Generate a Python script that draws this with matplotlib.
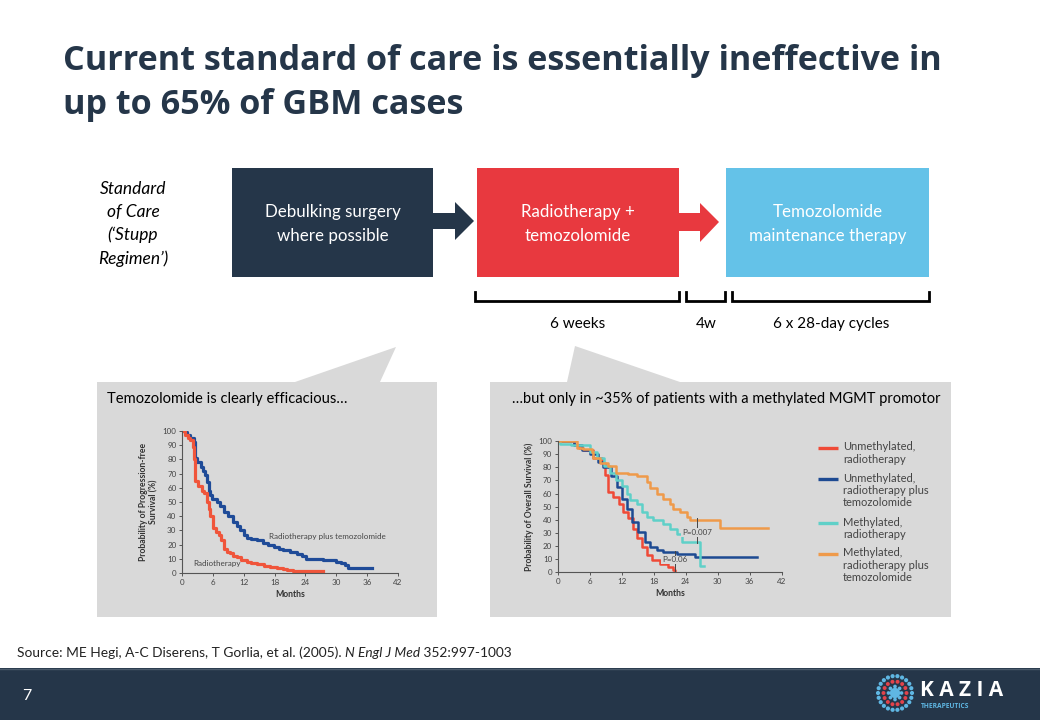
import matplotlib
matplotlib.use("Agg")
import matplotlib.pyplot as plt
from matplotlib.patches import Rectangle, Polygon
import numpy as np

# Colours
NAVY = "#253649"
RED_BOX = "#e8393f"
BLUE_BOX = "#64c2e8"
PANEL = "#d9d9d9"

# Left chart: progression-free survival (Stupp trial)
pfs_tmz_months = [0, 0.5, 1.0, 1.6, 2.3, 2.6, 3.0, 3.6, 4.1, 4.5, 4.9, 5.2, 5.5, 5.8, 6.8, 7.3, 8.1, 9.0,
                  10.0, 10.7, 11.3, 12.0, 12.6, 13.5, 14.5, 15.8, 16.8, 17.8, 18.8, 19.7, 21.0, 22.3,
                  23.3, 24.2, 27.5, 30.0, 31.0, 31.7, 32.3, 37.0]
pfs_tmz_pct = [100, 99, 97, 95, 92, 81, 78, 75, 72, 69, 64, 58, 55, 52, 50, 47, 43, 40,
               36, 33, 30, 27, 25, 24, 23, 21, 20, 18, 17, 16, 15, 13.6,
               12, 10, 9, 8, 7, 5.4, 3.5, 3.5]
pfs_rt_months = [0, 0.6, 1.2, 1.6, 2.1, 2.4, 2.6, 3.2, 3.8, 4.2, 4.8, 5.2, 5.5, 6.1, 6.6, 7.1, 7.6, 8.1,
                 8.7, 9.4, 10.0, 10.7, 11.5, 12.6, 13.5, 14.5, 16.0, 17.1, 18.5, 19.7, 20.5, 21.6, 27.5]
pfs_rt_pct = [100, 97, 95, 94, 89, 80, 65, 61, 58, 56, 50, 45, 40, 32, 29, 27, 23, 17,
              15, 14, 12, 11, 9.5, 8, 7, 6, 5, 4, 3.5, 2.6, 2, 1.4, 1.4]

# Right chart: overall survival by MGMT status
os_unmeth_rt_months = [0, 3, 4, 4.8, 6.7, 8.25, 8.9, 9.5, 10.4, 11.4, 12.3, 13.25, 14.2, 14.8, 15.75,
                       16.7, 17.6, 19.2, 20.75, 21.7, 22.0]
os_unmeth_rt_pct = [100, 97, 95, 93, 87, 83, 74, 61, 57, 52, 46, 41, 33, 26, 19,
                    13, 9, 6.6, 4, 1.5, 0]
os_unmeth_tmz_months = [0, 3, 4.5, 6, 7.5, 8.5, 10, 11.1, 12.0, 12.9, 13.9, 15.1, 16.4, 17.3, 18.6,
                        19.8, 22.3, 25.75, 37.3]
os_unmeth_tmz_pct = [100, 97, 93, 90, 84, 80, 73, 65, 56, 48, 38, 31, 23, 19, 17,
                     15.5, 14, 11.7, 11.7]
os_meth_rt_months = [0, 0.5, 2.5, 6.0, 7.3, 8.6, 9.8, 11.0, 12.0, 12.9, 13.5, 14.8, 15.75, 16.7, 17.9,
                     19.8, 21.0, 22.3, 23.25, 26.7, 27.0, 27.4]
os_meth_rt_pct = [100, 98, 97, 92, 87, 81, 76, 70, 66, 60, 55, 52, 46, 42, 40,
                  37, 33, 29, 23, 5, 5, 5]
os_meth_tmz_months = [0, 2, 3.6, 4.8, 6.4, 6.7, 7.9, 9.5, 11.0, 13.25, 14.8, 16.7, 17.3, 18.6, 19.8,
                      21.0, 21.7, 22.9, 24.2, 24.8, 30.4, 39.5]
os_meth_tmz_pct = [100, 100, 95, 94, 92, 87, 83, 81, 76, 75, 73, 69, 64, 60, 56,
                   52, 48.5, 46, 42, 40, 34, 34]

legend_labels = ["Unmethylated,\nradiotherapy",
                 "Unmethylated,\nradiotherapy plus\ntemozolomide",
                 "Methylated,\nradiotherapy",
                 "Methylated,\nradiotherapy plus\ntemozolomide"]
os_colors = ["#ef4a37", "#1d4a92", "#5fd0c8", "#ef9a4a"]
month_ticks = [0, 6, 12, 18, 24, 30, 36, 42]
pct_ticks = list(range(0, 101, 10))

plt.rcParams["font.family"] = ["Lato", "DejaVu Sans"]

fig = plt.figure(figsize=(10.4, 7.2), dpi=100)

# background canvas in pixel coordinates
bg = fig.add_axes([0, 0, 1, 1])
bg.set_xlim(0, 1040)
bg.set_ylim(720, 0)
bg.axis("off")

# title
bg.text(63, 70, "Current standard of care is essentially ineffective in", fontsize=24.6,
        fontweight="bold", color=NAVY, family="Open Sans", va="baseline")
bg.text(63, 114, "up to 65% of GBM cases", fontsize=24.6,
        fontweight="bold", color=NAVY, family="Open Sans", va="baseline")

# Standard of care label
bg.text(133, 224, "Standard\nof Care\n(\u2018Stupp\nRegimen\u2019)", fontsize=12.5, style="italic",
        ha="center", va="center", linespacing=1.5, color="black")

# process boxes
boxes = [(232, 433, NAVY, "Debulking surgery\nwhere possible"),
         (477, 679, RED_BOX, "Radiotherapy +\ntemozolomide"),
         (726, 929, BLUE_BOX, "Temozolomide\nmaintenance therapy")]
for x0, x1, col, txt in boxes:
    bg.add_patch(Rectangle((x0, 168), x1 - x0, 109, facecolor=col, edgecolor="none"))
    bg.text((x0 + x1) / 2, 224, txt, color="white", fontsize=12.2, ha="center", va="center",
            linespacing=1.6)

# arrows between boxes
bg.add_patch(Polygon([(433, 213), (455, 213), (455, 202), (474, 221), (455, 240), (455, 229), (433, 229)],
                     closed=True, facecolor=NAVY, edgecolor="none"))
bg.add_patch(Polygon([(679, 213), (700, 213), (700, 203), (719, 222), (700, 242), (700, 231), (679, 231)],
                     closed=True, facecolor=RED_BOX, edgecolor="none"))

# timing brackets
for x0, x1, lab in [(475, 679, "6 weeks"), (686, 725, "4w"), (732, 929, "6 x 28-day cycles")]:
    bg.plot([x0, x0, x1, x1], [292, 301, 301, 292], color="black", lw=2, solid_joinstyle="miter")
    bg.text((x0 + x1) / 2 + 1, 324, lab, fontsize=11, ha="center", va="center", color="black")

# grey callout panels
bg.add_patch(Rectangle((97, 382), 340, 235, facecolor=PANEL, edgecolor="none"))
bg.add_patch(Polygon([(295, 382), (396, 347), (380, 382)], closed=True, facecolor=PANEL, edgecolor="none"))
bg.add_patch(Rectangle((490, 382), 461, 235, facecolor=PANEL, edgecolor="none"))
bg.add_patch(Polygon([(567, 382), (575, 346), (680, 382)], closed=True, facecolor=PANEL, edgecolor="none"))
bg.text(107, 399, "Temozolomide is clearly efficacious\u2026", fontsize=10.6, va="center")
bg.text(512, 399, "\u2026but only in ~35% of patients with a methylated MGMT promotor", fontsize=10.55,
        va="center")

# footer band
bg.add_patch(Rectangle((0, 668), 1040, 52, facecolor=NAVY, edgecolor="none"))
bg.plot([0, 1040], [668.5, 668.5], color="#4a5a6b", lw=1)
bg.text(27, 696, "7", color="white", fontsize=11.5, ha="center", va="center")

# KAZIA logo
cx, cy = 895, 693
for r, n, col, s in [(17, 22, "#5fb7e3", 9), (11.5, 14, "#e2434b", 8), (6.5, 8, "#5fb7e3", 7)]:
    ang = np.linspace(0, 2 * np.pi, n, endpoint=False)
    bg.scatter(cx + r * np.cos(ang), cy + r * np.sin(ang), s=s, color=col, edgecolors="none")
bg.scatter([cx], [cy], s=55, color="#5fb7e3", edgecolors="none")
bg.text(920, 690, "K A Z I A", color="white", fontsize=15, fontweight="bold", va="center",
        family="Open Sans")
bg.text(921, 706, "THERAPEUTICS", color="#5fb7e3", fontsize=4.8, fontweight="bold", va="center",
        family="Open Sans")


def style_km(ax, ylabel):
    ax.set_facecolor("none")
    ax.set_xlim(0, 42)
    ax.set_ylim(0, 100)
    ax.set_xticks(month_ticks)
    ax.set_yticks(pct_ticks)
    for side in ["top", "right"]:
        ax.spines[side].set_visible(False)
    for side in ["left", "bottom"]:
        ax.spines[side].set_color("#555555")
        ax.spines[side].set_linewidth(0.8)
    ax.tick_params(length=2.5, width=0.7, color="#555555", labelsize=5.8, labelcolor="#444444", pad=1.5)
    ax.set_xlabel("Months", fontsize=6.2, fontweight="bold", color="#333333", labelpad=3)
    ax.set_ylabel(ylabel, fontsize=6.2, fontweight="bold", color="#333333", labelpad=3)


# left KM chart
ax1 = fig.add_axes([182 / 1040, 1 - 573 / 720, 216 / 1040, 142 / 720])
ax1.step(pfs_tmz_months, pfs_tmz_pct, where="post", color="#1f4b98", lw=2.3)
ax1.step(pfs_rt_months, pfs_rt_pct, where="post", color="#f0553b", lw=2.3)
ax1.text(17, 25.5, "Radiotherapy plus temozolomide", fontsize=5.8, color="#444444", va="center")
ax1.text(2.1, 6.6, "Radiotherapy", fontsize=5.8, color="#444444", va="center")
style_km(ax1, "Probability of Progression-free\nSurvival (%)")

# right KM chart
ax2 = fig.add_axes([557.7 / 1040, 1 - 572.3 / 720, 224 / 1040, 131.3 / 720])
series = [(os_unmeth_rt_months, os_unmeth_rt_pct), (os_unmeth_tmz_months, os_unmeth_tmz_pct),
          (os_meth_rt_months, os_meth_rt_pct), (os_meth_tmz_months, os_meth_tmz_pct)]
for (m, p), col in zip(series, os_colors):
    ax2.step(m, p, where="post", color=col, lw=1.8)
ax2.plot([26.1, 26.1], [22, 41], color="#444444", lw=0.7)
ax2.plot([21.9, 21.9], [0, 16.5], color="#444444", lw=0.7)
ax2.text(26.1, 30.5, "P=0.007", fontsize=5.8, color="#444444", ha="center", va="center",
         bbox=dict(facecolor=PANEL, edgecolor="none", pad=0.6))
ax2.text(21.9, 9.5, "P=0.06", fontsize=5.8, color="#444444", ha="center", va="center",
         bbox=dict(facecolor=PANEL, edgecolor="none", pad=0.6))
style_km(ax2, "Probability of Overall Survival (%)")

# legend drawn manually, first line aligned with the swatch
leg_y = [448, 479, 523, 554]
for y, lab, col in zip(leg_y, legend_labels, os_colors):
    bg.plot([818, 838], [y, y], color=col, lw=2.4, solid_capstyle="butt")
    bg.text(843, y - 6.5, lab, fontsize=8, color="#444444", va="top", linespacing=1.15)

# source line: pieces placed one after another using measured widths
renderer = fig.canvas.get_renderer()
x = 17
for part, st in [("Source: ME Hegi, A-C Diserens, T Gorlia, et al. (2005). ", "normal"),
                 ("N Engl J Med", "italic"), (" 352:997-1003", "normal")]:
    t = bg.text(x, 653, part, fontsize=9.9, style=st, va="center", color="#222222")
    ext = t.get_window_extent(renderer=renderer)
    x += ext.width

fig.savefig("out.png", dpi=100)
